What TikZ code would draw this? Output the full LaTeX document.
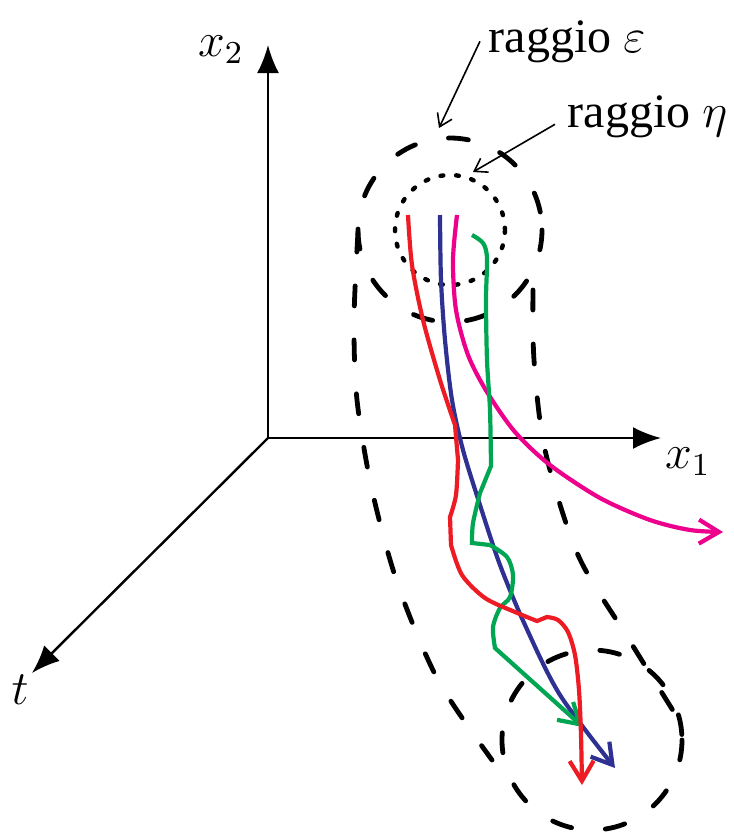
\documentclass[tikz,border=0pt]{standalone}
\usepackage{fontspec}
\newfontfamily\lblfont{Liberation Serif}
\usetikzlibrary{arrows.meta}
\definecolor{trred}{RGB}{237,28,36}
\definecolor{trblue}{RGB}{46,49,146}
\definecolor{trmagenta}{RGB}{236,0,140}
\definecolor{trgreen}{RGB}{0,166,81}
\tikzset{
  axis/.style={-{Latex[length=7pt,width=5.5pt]}, line width=0.6pt},
  lbl/.style={font=\fontsize{12}{14}\selectfont\lblfont, inner sep=0pt},
  tube/.style={line width=1.2pt, dash pattern=on 5pt off 8.5pt, line cap=round},
  ball/.style={line width=1.1pt, dash pattern=on 0.7pt off 3.2pt, line cap=round},
  pointer/.style={-{Straight Barb[length=3pt,width=4pt]}, line width=0.4pt},
  traj/.style={line width=1.05pt, -{Straight Barb[length=5pt,width=6pt]}},
}
\begin{document}
\begin{tikzpicture}[x=0.25pt, y=-0.25pt]
    \useasboundingbox (0,0) rectangle (733,837);

    % Axes
    \coordinate (O) at (268,438);
    \coordinate (X1) at (661,438);
    \coordinate (X2) at (268,45);
    \coordinate (T) at (32,673);
    \draw[axis] (O) -- (X1);
    \draw[axis] (O) -- (X2);
    \draw[axis] (O) -- (T);
    \node[lbl] (labx1) at (688,462) {$x_1$};
    \node[lbl] (labx2) at (221,50) {$x_2$};
    \node[lbl] (labt) at (20,690) {$t$};

    % Tube of radius epsilon
    \coordinate (start) at (450,230);
    \coordinate (final) at (592,740);
    \draw[tube] (start) circle (92);
    \draw[tube] (final) circle (90);
    \draw[tube] plot[smooth] coordinates {(358,232) (354,320) (357,400) (372,490) (398,585) (438,680) (492,760)};
    \draw[tube] plot[smooth] coordinates {(533,290) (534,360) (545,450) (578,555) (628,638) (682,725)};

    % Ball of radius eta
    \draw[ball] (start) circle (55);

    % Labels
    \node[lbl, anchor=base west] (epslbl) at (488,52) {raggio $\varepsilon$};
    \node[lbl, anchor=base west] (etalbl) at (567,127) {raggio $\eta$};
    \coordinate (epstip) at (439,128);
    \coordinate (etatip) at (473,172);
    \draw[pointer] ([xshift=-2pt]epslbl.west) -- (epstip);
    \draw[pointer] ([xshift=-3pt,yshift=-2pt]etalbl.west) -- (etatip);

    % Trajectories
    \draw[traj, trblue] plot[smooth] coordinates {(440,215) (441,280) (445,340) (452,400) (463,450) (480,505) (500,565) (525,625) (560,695) (615,768)};
    \draw[traj, trmagenta] plot[smooth] coordinates {(457,215) (453,260) (456,310) (468,355) (487,392) (515,432) (550,465) (600,498) (650,520) (690,530) (723,532)};
    \draw[traj, trgreen] plot[smooth] coordinates {(472,235) (483,243) (487,258) (486,300) (487,360) (490,410) (491,466)}
        -- plot[smooth] coordinates {(480,493) (473,523) (472,543)}
        -- plot[smooth] coordinates {(490,545) (507,557) (513,575) (510,597) (500,608) (493,627) (495,648)}
        -- (583,727);
    \draw[traj, trred] plot[smooth] coordinates {(408,215) (412,265) (423,320) (440,380) (455,425)}
        -- plot[smooth] coordinates {(458,460) (456,495) (450,517)}
        -- plot[smooth] coordinates {(451,545) (462,575) (485,598) (515,612) (537,621)}
        -- plot[smooth] coordinates {(547,617) (558,620) (568,632) (575,655) (579,690) (581,735) (582,785)};
\end{tikzpicture}
\end{document}
